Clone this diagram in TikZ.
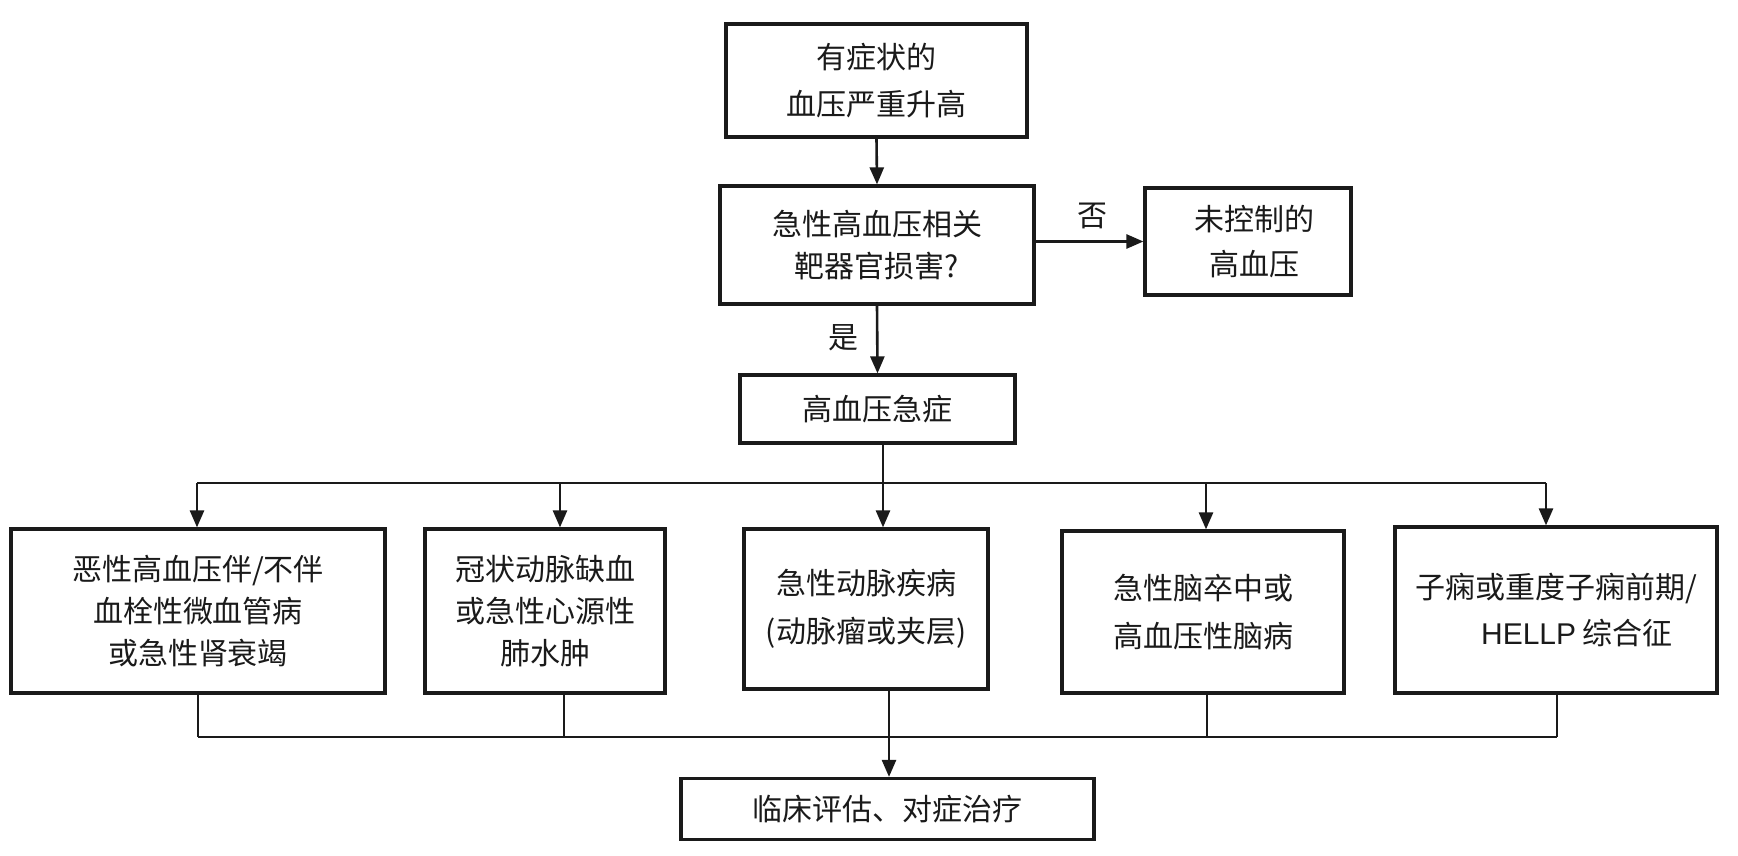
\documentclass[tikz,border=0pt]{standalone}
\usepackage{fontspec}
\setmainfont{Noto Sans CJK SC}
\newfontfamily\latinfont{Liberation Sans}
\usetikzlibrary{arrows.meta}
\definecolor{ink}{HTML}{1A1A1A}
\begin{document}
\begin{tikzpicture}[x=1pt,y=-1pt,
  box/.style={draw=ink,line width=3.2pt,rectangle,inner sep=0pt,align=center,text=ink,
    font=\fontsize{30}{42}\selectfont},
  line/.style={draw=ink,line width=2.6pt},
  arr/.style={line,-{Triangle[length=17pt,width=14pt]}},
  lab/.style={text=ink,font=\fontsize{30}{34}\selectfont}]
\useasboundingbox[fill=white] (0,0) rectangle (1738,856);
% top chain
\node[box,minimum width=301pt,minimum height=113pt,font=\fontsize{30}{47}\selectfont] (b1) at (876.5,80.5) {有症状的\\血压严重升高};
\node[box,minimum width=314pt,minimum height=118pt] (b2) at (877,245) {急性高血压相关\\靶器官损害?};
\node[box,minimum width=206pt,minimum height=107pt,font=\fontsize{30}{45}\selectfont] (b3) at (1248,241.5) {\hspace*{0.4em}未控制的\\\hspace*{0.4em}高血压};
\node[box,minimum width=275pt,minimum height=68pt] (b4) at (877.5,409) {高血压急症};
\node[lab] (no) at (1092,216) {否};
\node[lab] (yes) at (843,338) {是};
\draw[arr] (b1.south) -- (b2.north);
\draw[arr] (b2.east |- b3.west) -- (b3.west);
\draw[arr] (b2.south) -- (b4.north);
% row
\node[box,minimum width=374pt,minimum height=164pt] (c1) at (198,611) {恶性高血压伴/不伴\\血栓性微血管病\\或急性肾衰竭};
\node[box,minimum width=240pt,minimum height=164pt] (c2) at (545,611) {冠状动脉缺血\\或急性心源性\\肺水肿};
\node[box,minimum width=244pt,minimum height=160pt,font=\fontsize{30}{48}\selectfont] (c3) at (866,609) {急性动脉疾病\\(动脉瘤或夹层)};
\node[box,minimum width=282pt,minimum height=162pt,font=\fontsize{30}{48}\selectfont] (c4) at (1203,612) {急性脑卒中或\\高血压性脑病};
\node[box,minimum width=322pt,minimum height=166pt,font=\fontsize{30}{46}\selectfont] (c5) at (1556,610) {子痫或重度子痫前期/\\\hspace*{1.4em}{\latinfont HELLP} 综合征};
\node[box,minimum width=413pt,minimum height=61pt] (f) at (887.5,809) {临床评估、对症治疗};
% top bus
\coordinate (bc) at (883,483);
\coordinate (t1) at (197,483);
\coordinate (t2) at (560,483);
\coordinate (t3) at (883,483);
\coordinate (t4) at (1206,483);
\coordinate (t5) at (1546,483);
\draw[line] (b4.south -| bc) -- (bc);
\draw[line] (t1) -- (t5);
\draw[arr] (t1) -- (t1 |- c1.north);
\draw[arr] (t2) -- (t2 |- c2.north);
\draw[arr] (t3) -- (t3 |- c3.north);
\draw[arr] (t4) -- (t4 |- c4.north);
\draw[arr] (t5) -- (t5 |- c5.north);
% bottom bus
\coordinate (u1) at (198,737);
\coordinate (u2) at (564,737);
\coordinate (u3) at (889,737);
\coordinate (u4) at (1207,737);
\coordinate (u5) at (1557,737);
\draw[line] (u1 |- c1.south) -- (u1);
\draw[line] (u2 |- c2.south) -- (u2);
\draw[line] (u3 |- c3.south) -- (u3);
\draw[line] (u4 |- c4.south) -- (u4);
\draw[line] (u5 |- c5.south) -- (u5);
\draw[line] (u1) -- (u5);
\draw[arr] (u3) -- (u3 |- f.north);
\end{tikzpicture}
\end{document}
